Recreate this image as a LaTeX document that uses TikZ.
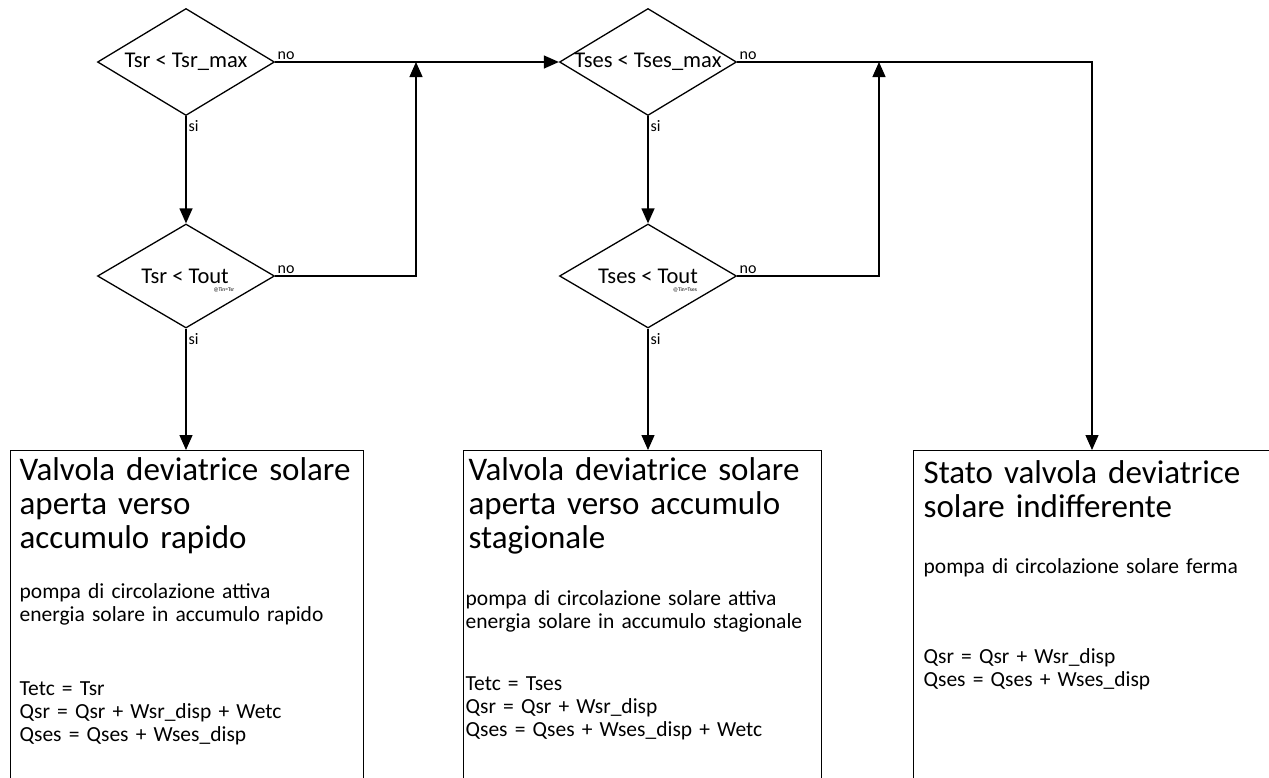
\documentclass[tikz,border=0pt]{standalone}
\usepackage{fontspec}
\setmainfont{Carlito}
\usetikzlibrary{arrows.meta,shapes.geometric}
\begin{document}
\begin{tikzpicture}[x=1pt,y=-1pt,
  line width=1.3pt,
  dec/.style={diamond,draw,inner sep=0pt,minimum width=177pt,minimum height=107pt},
  dtext/.style={font=\fontsize{22.5}{26}\selectfont},
  outbox/.style={draw,rectangle,inner sep=0pt,anchor=north west,minimum height=360pt},
  ttl/.style={anchor=base west,inner sep=0pt,text width=350pt,align=left,font=\fontsize{33}{34}\selectfont},
  txt/.style={anchor=base west,inner sep=0pt,text width=350pt,align=left,font=\fontsize{21.5}{23}\selectfont},
  lbl/.style={inner sep=0pt,font=\fontsize{16}{18}\selectfont},
  tiny/.style={inner sep=0pt,font=\fontsize{5.5}{6}\selectfont},
  arr/.style={-{Triangle[length=15pt,width=13pt]}}
]
\useasboundingbox (0,0) rectangle (1269,777);

% decisions
\node[dec] (d1) at (186,62) {};
\node[dec,minimum height=104pt] (d2) at (186,276) {};
\node[dec] (d3) at (648,62) {};
\node[dec,minimum height=104pt] (d4) at (648,276) {};

\node[dtext] (d1t) at (186,62) {Tsr < Tsr\_max};
\node[dtext] (d2t) at (185,276) {Tsr < Tout};
\node[dtext] (d3t) at (648,62) {Tses < Tses\_max};
\node[dtext] (d4t) at (648,276) {Tses < Tout};
\node[tiny] (d2s) at (224,290) {@Tin=Tsr};
\node[tiny] (d4s) at (685,290) {@Tin=Tses};

% result boxes
\node[outbox,minimum width=353pt] (b1) at (10,450) {};
\node[outbox,minimum width=358pt] (b2) at (463,450) {};
\node[outbox,minimum width=356pt] (b3) at (913,450) {};

% junction coordinates
\coordinate (j1) at (416,62);
\coordinate (j1b) at (416,276);
\coordinate (j2) at (879,62);
\coordinate (j2b) at (879,276);
\coordinate (j3) at (1092,62);

% connectors
\draw[arr] (d1.south) -- (d2.north);
\draw[arr] (d2.south) -- (b1.north -| d2.south);
\draw[arr] (d3.south) -- (d4.north);
\draw[arr] (d4.south) -- (b2.north -| d4.south);
\draw[arr] (d1.east) -- (d3.west);
\draw[arr] (d2.east) -- (j1b) -- (j1);
\draw[arr] (d4.east) -- (j2b) -- (j2);
\draw[arr] (d3.east) -- (j3) -- (b3.north -| j3);

% branch labels
\node[lbl,anchor=base west] (n1) at (277,59) {no};
\node[lbl,anchor=base west] (n2) at (277,273) {no};
\node[lbl,anchor=base west] (n3) at (739,59) {no};
\node[lbl,anchor=base west] (n4) at (739,273) {no};
\node[lbl,anchor=base west] (s1) at (188,131) {si};
\node[lbl,anchor=base west] (s2) at (188,344) {si};
\node[lbl,anchor=base west] (s3) at (650,131) {si};
\node[lbl,anchor=base west] (s4) at (650,344) {si};

% box texts
\node[ttl] (b1t) at (19,480) {Valvola deviatrice solare\\aperta verso\\accumulo rapido};
\node[txt] (b1b) at (19,598) {pompa di circolazione attiva\\energia solare in accumulo rapido};
\node[txt] (b1e) at (19,695) {Tetc = Tsr\\Qsr = Qsr + Wsr\_disp + Wetc\\Qses = Qses + Wses\_disp};

\node[ttl] (b2t) at (468,480) {Valvola deviatrice solare\\aperta verso accumulo\\stagionale};
\node[txt] (b2b) at (465,605) {pompa di circolazione solare attiva\\energia solare in accumulo stagionale};
\node[txt] (b2e) at (465,690) {Tetc = Tses\\Qsr = Qsr + Wsr\_disp\\Qses = Qses + Wses\_disp + Wetc};

\node[ttl] (b3t) at (923,483) {Stato valvola deviatrice\\solare indifferente};
\node[txt] (b3b) at (923,573) {pompa di circolazione solare ferma};
\node[txt] (b3e) at (923,663) {Qsr = Qsr + Wsr\_disp\\Qses = Qses + Wses\_disp};
\end{tikzpicture}
\end{document}
